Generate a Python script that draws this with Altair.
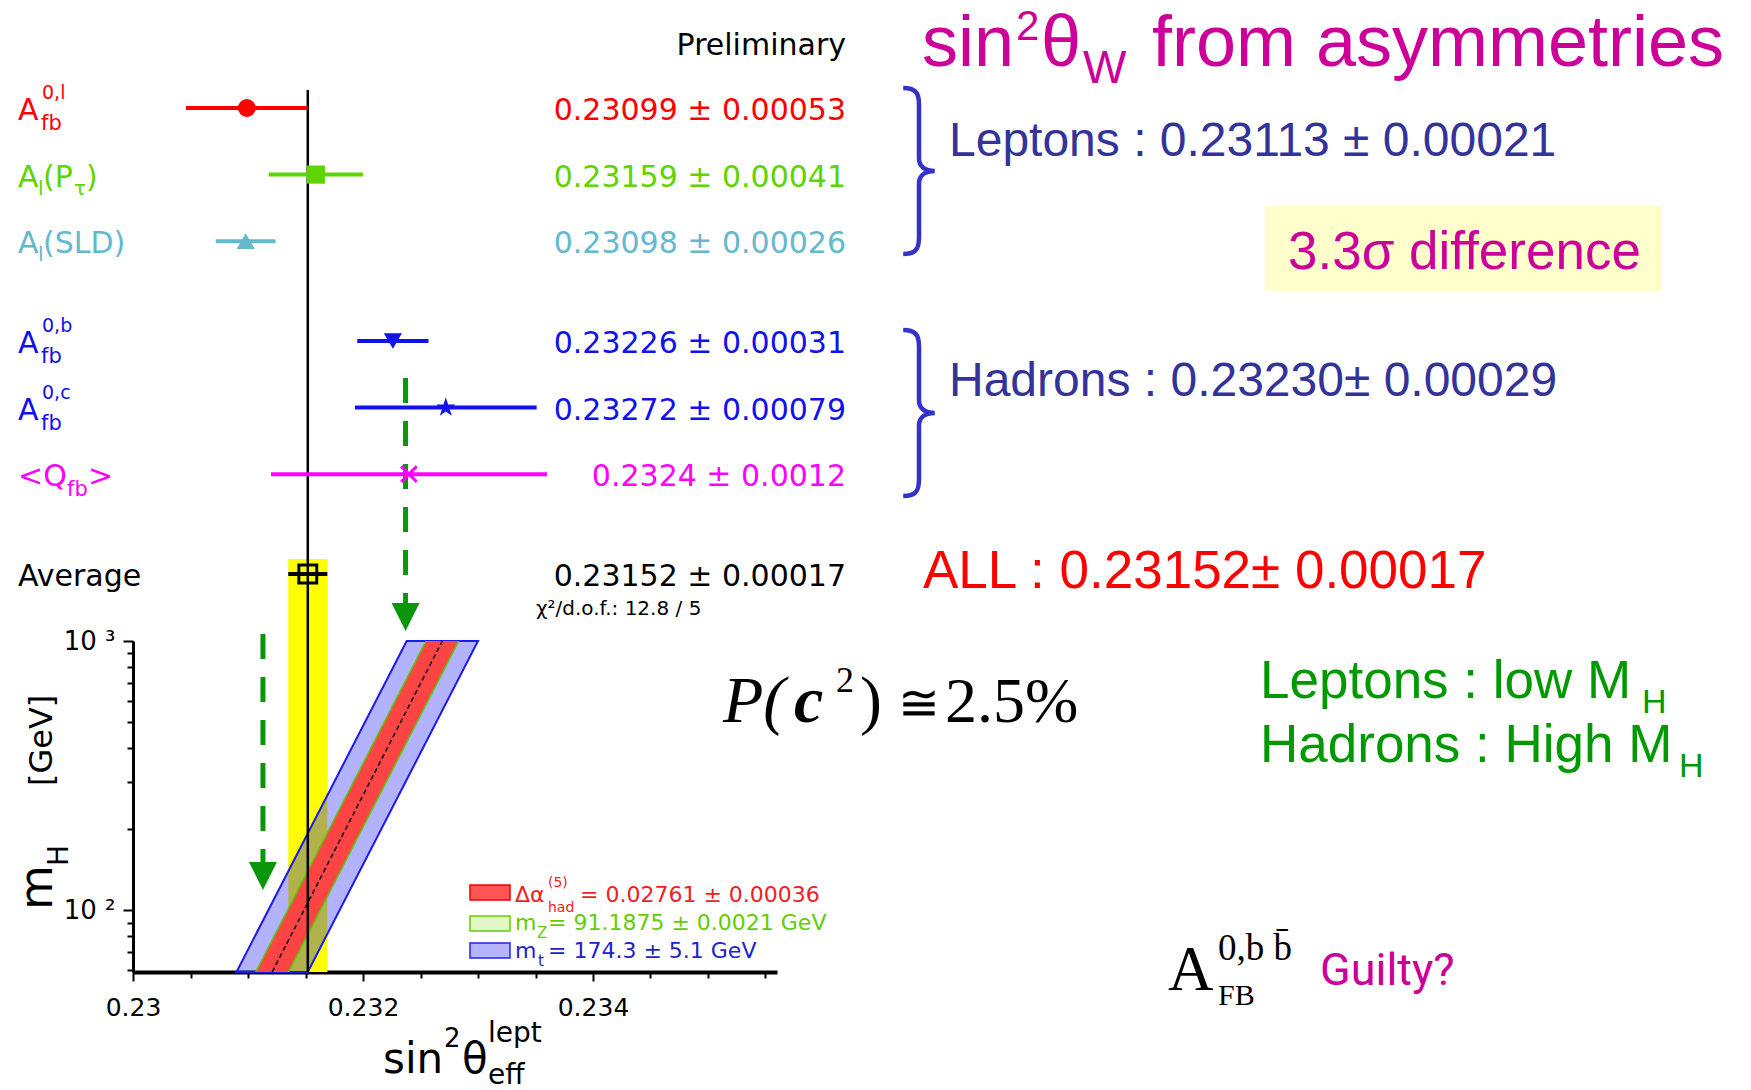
import altair as alt
import pandas as pd

# ===================== data =====================
categories  = ["A_fb^0,l", "A_l(P_tau)", "A_l(SLD)", "A_fb^0,b", "A_fb^0,c", "<Q_fb>", "Average"]
groups      = ["Leptons", "Leptons", "Leptons", "Hadrons", "Hadrons", "Hadrons", "Average"]
sin2_values = [0.23099, 0.23159, 0.23098, 0.23226, 0.23272, 0.2324, 0.23152]
sin2_errors = [0.00053, 0.00041, 0.00026, 0.00031, 0.00079, 0.0012, 0.00017]
decimals    = [5, 5, 5, 5, 5, 4, 5]
label_main  = ["A", "A", "A", "A", "A", "<Q", "Average"]

arrow_sin2 = [0.23113, 0.23237]          # leptons -> low mH, hadrons -> high mH

mh_ends          = [59, 1000]
band_center      = [0.23121, 0.23269]
halfwidth_dalpha = 0.000135
halfwidth_mz     = 0.00015
halfwidth_mt     = 0.00031

x_major_ticks = [0.230, 0.232, 0.234]
x_minor_ticks = [0.2305, 0.231, 0.2315, 0.2325, 0.233, 0.2335, 0.2345, 0.235, 0.2355]
y_major_ticks = [100, 1000]
y_minor_ticks = [60, 70, 80, 90, 200, 300, 400, 500, 600, 700, 800, 900]

# ===================== styles =====================
ROOT_FONT = "DejaVu Sans"
SLIDE_FONT = "Liberation Sans"
SERIF = "Liberation Serif"
MAG = "#cc0099"
DBLUE = "#333399"
SGREEN = "#009900"
AGREEN = "#0a960a"
row_colors = ["#ff0000", "#5ed400", "#64b9cd", "#1111ee", "#1111ee", "#ff00ff", "#000000"]
STAR = ("M0,-1L0.225,-0.309L0.951,-0.309L0.363,0.118L0.588,0.809L0,0.382"
        "L-0.588,0.809L-0.363,0.118L-0.951,-0.309L-0.225,-0.309Z")
marker_shapes = ["circle", "square", "triangle-up", "triangle-down", STAR]
marker_sizes = [320, 330, 330, 330, 420]
BRACE = ("M-0.19,-1C-0.05,-1,0,-0.95,0,-0.8L0,-0.15C0,-0.05,0.08,0,0.19,0"
         "C0.08,0,0,0.05,0,0.15L0,0.8C0,0.95,-0.05,1,-0.19,1")
TRI_DOWN = "M-1,-1L1,-1L0,1Z"
XMARK = "M-1,-1L1,1M-1,1L1,-1"

# ===================== tables =====================
gap = {"Leptons": 0.0, "Hadrons": 0.5, "Average": 1.0}
rows = pd.DataFrame({
    "cat": categories,
    "slot": [i + gap[g] for i, g in enumerate(groups)],
    "val": sin2_values,
    "err": sin2_errors,
    "label": label_main,
    "col": row_colors,
})
rows["lo"] = rows["val"] - rows["err"]
rows["hi"] = rows["val"] + rows["err"]
rows["txt"] = [f"{v:.{d}f} ± {e:.{d}f}" for v, e, d in zip(sin2_values, sin2_errors, decimals)]

filled = rows.iloc[:5].copy()
filled["shape"] = marker_shapes
filled["msize"] = marker_sizes
qfb = rows.iloc[[5]]
avg = rows.iloc[[6]]

band = pd.DataFrame({"mh": mh_ends, "c": band_center})
band["mt_lo"] = band["c"] - halfwidth_mt
band["mt_hi"] = band["c"] + halfwidth_mt
band["mz_lo"] = band["c"] - halfwidth_mz
band["mz_hi"] = band["c"] + halfwidth_mz
band["da_lo"] = band["c"] - halfwidth_dalpha
band["da_hi"] = band["c"] + halfwidth_dalpha

arrows = pd.DataFrame({"x": arrow_sin2})
ONE = pd.DataFrame({"k": [0]})

# ===================== scales / axes =====================
XS = alt.Scale(domain=[0.230, 0.2356], range=[133, 777], zero=False, nice=False)
YM = alt.Scale(type="log", domain=[59, 1000], range=[972, 641], nice=False)
YR = alt.Scale(domain=[0, 7], range=[108, 574], zero=False, nice=False)

ax_x_major = alt.Axis(orient="bottom", offset=-118, values=x_major_ticks, format=".3~f",
                      tickSize=9, tickWidth=2, tickColor="black", domainColor="black",
                      domainWidth=4, labelFont=ROOT_FONT, labelFontSize=25, labelColor="black",
                      labelPadding=14, labelFlush=False, labelOverlap=False, grid=False, title=None)
ax_x_minor = alt.Axis(orient="bottom", offset=-118, values=x_minor_ticks, tickSize=6,
                      tickWidth=2, tickColor="black", domain=False, labels=False,
                      grid=False, title=None)
ax_y_major = alt.Axis(orient="left", offset=-133, values=y_major_ticks,
                      labelExpr="datum.value >= 1000 ? '10 ³' : '10 ²'",
                      tickSize=10, tickWidth=2, tickColor="black", domainColor="black",
                      domainWidth=3, labelFont=ROOT_FONT, labelFontSize=26, labelColor="black",
                      labelPadding=8, labelBaseline="middle", labelFlush=False,
                      labelOverlap=False, grid=False, title=None)
ax_y_minor = alt.Axis(orient="left", offset=-133, values=y_minor_ticks, tickSize=6,
                      tickWidth=2, tickColor="black", domain=False, labels=False,
                      grid=False, title=None)


def T(text, x, y, size, color, font=SLIDE_FONT, align="left", baseline="alphabetic", **kw):
    return alt.Chart(ONE).mark_text(text=text, font=font, fontSize=size, color=color,
                                    align=align, baseline=baseline, **kw).encode(
        x=alt.value(x), y=alt.value(y))


def R(x1, x2, y1, y2, fill, stroke=None, sw=0):
    kw = dict(fill=fill, strokeWidth=sw, opacity=1)
    if stroke:
        kw["stroke"] = stroke
    return alt.Chart(ONE).mark_rect(**kw).encode(
        x=alt.value(x1), x2=alt.value(x2), y=alt.value(y1), y2=alt.value(y2))


layers = []

# highlight box
layers.append(R(1265, 1662, 206, 291, "#ffffcc"))

# yellow average band
layers.append(alt.Chart(avg).mark_rect(fill="#ffff00", opacity=1).encode(
    x=alt.X("lo:Q", scale=XS, axis=None), x2="hi:Q",
    y=alt.value(559), y2=alt.value(972)))

# prediction bands
layers.append(alt.Chart(band).mark_area(orient="horizontal", fill="#0000ff", fillOpacity=0.3,
                                        stroke="#1a1aee", strokeWidth=2).encode(
    y=alt.Y("mh:Q", scale=YM, axis=ax_y_major),
    x=alt.X("mt_lo:Q", scale=XS, axis=ax_x_major), x2="mt_hi:Q"))
layers.append(alt.Chart(band).mark_area(orient="horizontal", fill="#55cc00", opacity=1).encode(
    y=alt.Y("mh:Q", scale=YM, axis=None),
    x=alt.X("mz_lo:Q", scale=XS, axis=None), x2="mz_hi:Q"))
layers.append(alt.Chart(band).mark_area(orient="horizontal", fill="#ff4444", opacity=1).encode(
    y=alt.Y("mh:Q", scale=YM, axis=None),
    x=alt.X("da_lo:Q", scale=XS, axis=None), x2="da_hi:Q"))
layers.append(alt.Chart(band).mark_line(color="black", strokeWidth=1.5, strokeDash=[5, 3]).encode(
    y=alt.Y("mh:Q", scale=YM, axis=ax_y_minor),
    x=alt.X("c:Q", scale=XS, axis=ax_x_minor), order="mh:Q"))

# vertical average line
layers.append(alt.Chart(avg).mark_rule(color="black", strokeWidth=2.5).encode(
    x=alt.X("val:Q", scale=XS, axis=None), y=alt.value(90), y2=alt.value(972)))

# green dashed arrows
shaft_extent = [(634, 862), (378, 603)]
head_center = [876, 617]
for i in range(2):
    a = arrows.iloc[[i]]
    layers.append(alt.Chart(a).mark_rule(color=AGREEN, strokeWidth=5, strokeDash=[25, 18]).encode(
        x=alt.X("x:Q", scale=XS, axis=None),
        y=alt.value(shaft_extent[i][0]), y2=alt.value(shaft_extent[i][1])))
    layers.append(alt.Chart(a).mark_point(shape=TRI_DOWN, filled=True, size=784, color=AGREEN,
                                          opacity=1).encode(
        x=alt.X("x:Q", scale=XS, axis=None), y=alt.value(head_center[i])))

# error bars
layers.append(alt.Chart(rows).mark_rule(strokeWidth=4).encode(
    x=alt.X("lo:Q", scale=XS, axis=None), x2="hi:Q",
    y=alt.Y("slot:Q", scale=YR, axis=None),
    color=alt.Color("col:N", scale=None)))

# markers
layers.append(alt.Chart(filled).mark_point(filled=True, opacity=1).encode(
    x=alt.X("val:Q", scale=XS, axis=None),
    y=alt.Y("slot:Q", scale=YR, axis=None),
    color=alt.Color("col:N", scale=None),
    shape=alt.Shape("shape:N", scale=None),
    size=alt.Size("msize:Q", scale=None)))
layers.append(alt.Chart(qfb).mark_point(shape=XMARK, filled=False, strokeWidth=3, size=240,
                                        opacity=1).encode(
    x=alt.X("val:Q", scale=XS, axis=None),
    y=alt.Y("slot:Q", scale=YR, axis=None),
    color=alt.Color("col:N", scale=None)))
layers.append(alt.Chart(avg).mark_point(shape="square", filled=False, strokeWidth=3, size=320,
                                        opacity=1).encode(
    x=alt.X("val:Q", scale=XS, axis=None),
    y=alt.Y("slot:Q", scale=YR, axis=None),
    color=alt.Color("col:N", scale=None)))

# value texts and row labels
layers.append(alt.Chart(rows).mark_text(align="right", baseline="alphabetic", font=ROOT_FONT,
                                        fontSize=30, dy=12).encode(
    x=alt.value(846), y=alt.Y("slot:Q", scale=YR, axis=None),
    text="txt:N", color=alt.Color("col:N", scale=None)))
layers.append(alt.Chart(rows).mark_text(align="left", baseline="alphabetic", font=ROOT_FONT,
                                        fontSize=30, dy=12).encode(
    x=alt.value(18), y=alt.Y("slot:Q", scale=YR, axis=None),
    text="label:N", color=alt.Color("col:N", scale=None)))


def row_px(i):
    return 108 + rows["slot"].iloc[i] * (466 / 7)


# sub/superscript pieces of the row labels: (row, text, x, dy, size)
pieces = [
    (0, "0,l", 42, -9, 19), (0, "fb", 41, 22, 21),
    (1, "l", 38, 20, 20), (1, "(P", 43, 12, 30), (1, "τ", 74, 20, 20), (1, ")", 86, 12, 30),
    (2, "l", 38, 20, 20), (2, "(SLD)", 43, 12, 30),
    (3, "0,b", 42, -9, 19), (3, "fb", 41, 22, 21),
    (4, "0,c", 42, -9, 19), (4, "fb", 41, 22, 21),
    (5, "fb", 67, 22, 21), (5, ">", 88, 12, 30),
]
for r, t, x, dy, s in pieces:
    layers.append(T(t, x, row_px(r) + dy, s, row_colors[r], font=ROOT_FONT))

layers.append(T("Preliminary", 846, 55, 30, "black", font=ROOT_FONT, align="right"))
layers.append(T("χ²/d.o.f.: 12.8 / 5", 536, 615, 20, "black", font=ROOT_FONT))

# axis titles
layers.append(T("sin", 383, 1073, 42, "black", font=ROOT_FONT))
layers.append(T("2", 444, 1047, 26, "black", font=ROOT_FONT))
layers.append(T("θ", 462, 1073, 42, "black", font=ROOT_FONT))
layers.append(T("eff", 488, 1084, 28, "black", font=ROOT_FONT))
layers.append(T("lept", 488, 1042, 28, "black", font=ROOT_FONT))
layers.append(T("m", 52, 910, 46, "black", font=ROOT_FONT, angle=270))
layers.append(T("H", 68, 866, 28, "black", font=ROOT_FONT, angle=270))
layers.append(T("[GeV]", 52, 786, 32, "black", font=ROOT_FONT, angle=270))

# legend of the bands
layers.append(R(470, 510, 885, 900, "#ff5555", "#ee0000", 1.5))
layers.append(R(470, 510, 916, 931, "#e2f7c8", "#66cc00", 1.5))
layers.append(R(470, 510, 943, 958, "#b4b4ff", "#2020ee", 1.5))
LRED, LGRN, LBLU = "#ee2222", "#66cc00", "#2222cc"
layers.append(T("Δα", 515, 902, 22, LRED, font=ROOT_FONT))
layers.append(T("(5)", 548, 887, 14, LRED, font=ROOT_FONT))
layers.append(T("had", 548, 912, 14, LRED, font=ROOT_FONT))
layers.append(T("= 0.02761 ± 0.00036", 580, 902, 22, LRED, font=ROOT_FONT))
layers.append(T("m", 515, 930, 22, LGRN, font=ROOT_FONT))
layers.append(T("Z", 537, 938, 15, LGRN, font=ROOT_FONT))
layers.append(T("= 91.1875 ± 0.0021 GeV", 548, 930, 22, LGRN, font=ROOT_FONT))
layers.append(T("m", 515, 958, 22, LBLU, font=ROOT_FONT))
layers.append(T("t", 538, 966, 15, LBLU, font=ROOT_FONT))
layers.append(T("= 174.3 ± 5.1 GeV", 548, 958, 22, LBLU, font=ROOT_FONT))

# ---------------- slide text on the right ----------------
layers.append(T("sin", 922, 66, 72, MAG))
layers.append(T("2", 1016, 40, 42, MAG))
layers.append(T("θ", 1041, 66, 72, MAG))
layers.append(T("W", 1083, 83, 46, MAG))
layers.append(T("from asymmetries", 1152, 66, 72, MAG))

for yc in (171, 413):
    layers.append(alt.Chart(ONE).mark_point(shape=BRACE, filled=False, strokeWidth=4.5,
                                            size=166 * 166, color="#3333cc", opacity=1).encode(
        x=alt.value(919), y=alt.value(yc)))

layers.append(T("Leptons : 0.23113 ± 0.00021", 949, 156, 48, DBLUE))
layers.append(T("Hadrons : 0.23230± 0.00029", 949, 396, 48, DBLUE))
layers.append(T("3.3σ difference", 1288, 269, 53, MAG))
layers.append(T("ALL : 0.23152± 0.00017", 923, 588, 53, "#ff0000"))

layers.append(T("P(", 723, 722, 66, "black", font=SERIF, fontStyle="italic"))
layers.append(T("c", 794, 722, 66, "black", font=SERIF, fontStyle="italic", fontWeight="bold"))
layers.append(T("2", 836, 692, 36, "black", font=SERIF))
layers.append(T(")", 860, 722, 66, "black", font=SERIF))
layers.append(T("≅", 898, 720, 50, "black", font="DejaVu Serif"))
layers.append(T("2.5%", 945, 722, 64, "black", font=SERIF))

layers.append(T("Leptons : low M", 1260, 698, 53, SGREEN))
layers.append(T("H", 1642, 713, 34, SGREEN))
layers.append(T("Hadrons : High M", 1260, 762, 53, SGREEN))
layers.append(T("H", 1679, 777, 34, SGREEN))

layers.append(T("A", 1168, 990, 63, "black", font=SERIF))
layers.append(T("0,b b\u0304", 1218, 960, 37, "black", font=SERIF))
layers.append(T("FB", 1218, 1005, 30, "black", font=SERIF))
layers.append(T("Guilty?", 1320, 985, 45, MAG, font="Roboto"))

chart = alt.layer(*layers).resolve_scale(
    x="independent", y="independent"
).properties(
    width=1751, height=1090,
    autosize=alt.AutoSizeParams(type="none"),
    padding=0, background="white",
).configure_view(strokeWidth=0)

chart.save("out.html", embed_options={"renderer": "svg", "actions": False})
